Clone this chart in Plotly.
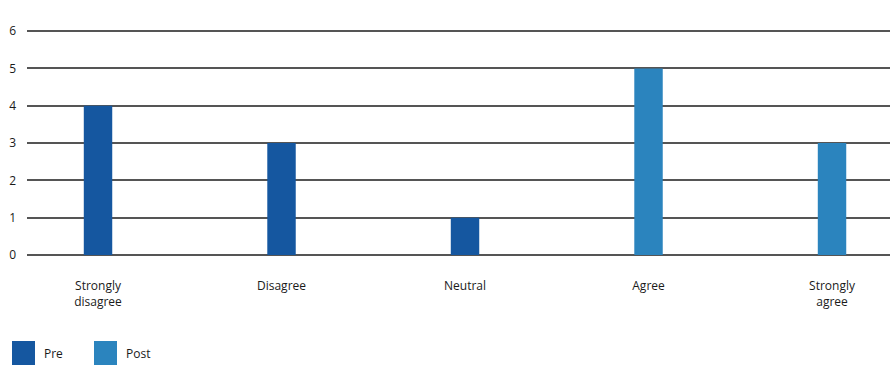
import plotly.graph_objects as go

categories = ["Strongly<br>disagree", "Disagree", "Neutral", "Agree", "Strongly<br>agree"]
series_names = ["Pre", "Post"]
pre_values = [4, 3, 1, None, None]
post_values = [None, None, None, 5, 3]
y_ticks = [0, 1, 2, 3, 4, 5, 6]

colors = ["#1557a0", "#2b84be"]
font_family = "Open Sans, Roboto, sans-serif"
text_color = "#1a1a1a"

x_idx = list(range(len(categories)))

fig = go.Figure()
for name, vals, col in zip(series_names, [pre_values, post_values], colors):
    fig.add_trace(go.Bar(
        x=x_idx, y=vals, name=name, marker=dict(color=col, line=dict(width=0)),
        width=0.155, showlegend=False,
    ))

plot_top = 30
plot_bottom = 255
fig.update_layout(
    width=890, height=383,
    margin=dict(l=27, r=0, t=plot_top, b=383 - plot_bottom),
    paper_bgcolor="white", plot_bgcolor="white",
    barmode="overlay",
    font=dict(family=font_family, size=12, color=text_color),
    xaxis=dict(
        range=[-0.387, 4.316],
        tickmode="array", tickvals=x_idx, ticktext=categories,
        showgrid=False, zeroline=False, showline=False, ticks="",
        tickfont=dict(size=12, color=text_color),
        ticklabelstandoff=22,
    ),
    yaxis=dict(
        range=[0, 6.03], tickmode="array", tickvals=y_ticks,
        showgrid=True, gridcolor="#555555", gridwidth=2,
        zeroline=True, zerolinecolor="#555555", zerolinewidth=2,
        showline=False, ticks="",
        tickfont=dict(size=12, color=text_color),
        ticklabelstandoff=10,
    ),
)

# legend drawn as swatches + labels at the bottom-left
ph = plot_bottom - plot_top
legend_x = [12, 94]
for name, col, lx in zip(series_names, colors, legend_x):
    fig.add_shape(type="rect", xref="paper", yref="paper",
                  x0=(lx - 27) / 863, x1=(lx + 23 - 27) / 863,
                  y0=(plot_bottom - 365) / ph, y1=(plot_bottom - 341) / ph,
                  fillcolor=col, line=dict(width=0))
    fig.add_annotation(xref="paper", yref="paper",
                       x=(lx + 30 - 27) / 863, y=(plot_bottom - 353) / ph,
                       text=name, showarrow=False, xanchor="left", yanchor="middle",
                       font=dict(size=12, color=text_color))

fig.write_html("out.html")
